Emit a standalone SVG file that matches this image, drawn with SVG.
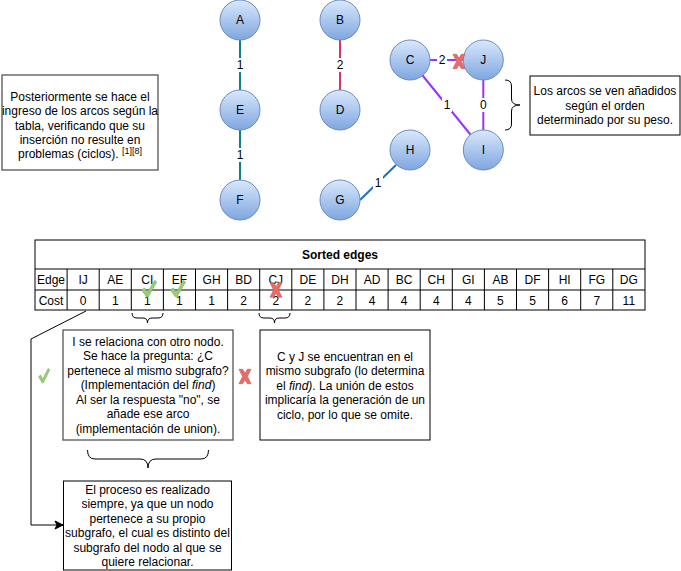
<svg xmlns="http://www.w3.org/2000/svg" xmlns:xlink="http://www.w3.org/1999/xlink" width="681" height="571" viewBox="0 0 681 571">
<style>
text{font-family:"Liberation Sans",Arial,sans-serif;font-size:12px;fill:#000;}
.c{text-anchor:middle;}
.node circle{fill:url(#ng);stroke:#6c8ebf;stroke-width:1;}
.box{fill:#fff;stroke:#000;stroke-width:1;}
.gbox{fill:#fff;stroke:#555;stroke-width:1.3;}
.cell{fill:none;stroke:#000;stroke-width:1;}
.e{fill:none;stroke-width:2;}
.lbl{fill:#fff;stroke:none;}
.brace{fill:none;stroke:#000;stroke-width:1;}
.th{font-weight:bold;}
</style>
<defs>
<linearGradient id="ng" x1="0" y1="0" x2="0" y2="1">
<stop offset="0" stop-color="#dae8fc"/>
<stop offset="1" stop-color="#7ea6e0"/>
</linearGradient>
<marker id="arr" markerWidth="10" markerHeight="10" refX="9" refY="5" orient="auto" markerUnits="userSpaceOnUse">
<path d="M1,1 L9,5 L1,9 L3,5 Z" fill="#000" stroke="#000" stroke-width="1"/>
</marker>
<g id="xmark">
<path d="M-6,-7.2 L-2.4,-7.2 L0,-3.2 L2.4,-7.2 L6,-7.2 L2.4,0 L6,7.2 L2.4,7.2 L0,3.2 L-2.4,7.2 L-6,7.2 L-2.4,0 Z" fill="#ea6b66" stroke="#c96a66" stroke-width="0.8" stroke-linejoin="round"/>
</g>
<g id="check">
<path d="M0,10 L2.8,8 L5.8,12.5 L12.8,0.5 L15,2 L6.3,17 L5.2,17 Z" fill="#97d077" stroke="#82b366" stroke-width="0.8" stroke-linejoin="round"/>
</g>
</defs>

<g id="connectors">
<line class="e" stroke="#0e8088" x1="240" y1="40" x2="240" y2="90"/>
<line class="e" stroke="#0e8088" x1="240" y1="130" x2="240" y2="180"/>
<line class="e" stroke="#d6336c" x1="340" y1="40" x2="340" y2="90"/>
<line class="e" stroke="#9933ff" x1="430" y1="60" x2="463" y2="60"/>
<line class="e" stroke="#9933ff" x1="422.6" y1="75.5" x2="470.4" y2="134.5"/>
<line class="e" stroke="#9933ff" x1="483.3" y1="80" x2="483.3" y2="130"/>
<line class="e" stroke="#1c6fc6" x1="360" y1="200" x2="396" y2="165"/>
<rect class="lbl" x="235" y="58" width="10" height="14"/>
<text class="c" x="240" y="69.3">1</text>
<rect class="lbl" x="235" y="148" width="10" height="14"/>
<text class="c" x="240" y="159.3">1</text>
<rect class="lbl" x="335" y="58" width="10" height="14"/>
<text class="c" x="340" y="69.3">2</text>
<rect class="lbl" x="437" y="53" width="10" height="14"/>
<text class="c" x="442" y="64.3">2</text>
<rect class="lbl" x="442" y="98" width="10" height="14"/>
<text class="c" x="447" y="109.3">1</text>
<rect class="lbl" x="478.3" y="98" width="10" height="14"/>
<text class="c" x="483.3" y="109.3">0</text>
<rect class="lbl" x="373" y="175.5" width="10" height="14"/>
<text class="c" x="378" y="186.8">1</text>
<polyline fill="none" stroke="#000" stroke-width="1" points="86,311 31,339 31,525 63,525" marker-end="url(#arr)"/>
</g>

<g id="node-A" class="node"><circle cx="240" cy="20" r="20"/><text class="c" x="240" y="24.3">A</text></g>
<g id="node-E" class="node"><circle cx="240" cy="110" r="20"/><text class="c" x="240" y="114.3">E</text></g>
<g id="node-F" class="node"><circle cx="240" cy="200" r="20"/><text class="c" x="240" y="204.3">F</text></g>
<g id="node-B" class="node"><circle cx="340" cy="20" r="20"/><text class="c" x="340" y="24.3">B</text></g>
<g id="node-D" class="node"><circle cx="340" cy="110" r="20"/><text class="c" x="340" y="114.3">D</text></g>
<g id="node-G" class="node"><circle cx="340" cy="200" r="20"/><text class="c" x="340" y="204.3">G</text></g>
<g id="node-H" class="node"><circle cx="410" cy="150" r="20"/><text class="c" x="410" y="154.3">H</text></g>
<g id="node-C" class="node"><circle cx="410" cy="60" r="20"/><text class="c" x="410" y="64.3">C</text></g>
<g id="node-J" class="node"><circle cx="483.3" cy="60" r="20"/><text class="c" x="483.3" y="64.3">J</text></g>
<g id="node-I" class="node"><circle cx="483.3" cy="150" r="20"/><text class="c" x="483.3" y="154.3">I</text></g>

<use xlink:href="#xmark" href="#xmark" transform="translate(459,61.5)"/>

<g id="note-left">
<rect class="gbox" x="2" y="75" width="156" height="95"/>
<text class="c" x="80" y="100.8">Posteriormente se hace el</text>
<text class="c" x="80" y="115.3">ingreso de los arcos según la</text>
<text class="c" x="80" y="129.8">tabla, verificando que su</text>
<text class="c" x="80" y="144.3">inserción no resulte en</text>
<text class="c" x="80" y="158.3">problemas (ciclos). <tspan font-size="9" dy="-4">[1][8]</tspan></text>
</g>

<g id="note-right">
<path class="brace" d="M505,80 Q511.5,80 511.5,86 L511.5,99 Q511.5,105 520,105 Q511.5,105 511.5,111 L511.5,124 Q511.5,130 505,130"/>
<rect class="box" x="530" y="76" width="150" height="59"/>
<text class="c" x="605" y="95.3">Los arcos se ven añadidos</text>
<text class="c" x="605" y="109.8">según el orden</text>
<text class="c" x="605" y="124.3">determinado por su peso.</text>
</g>

<g id="table">
<rect class="cell" x="35" y="240" width="610" height="70"/>
<line class="cell" x1="35" y1="269" x2="645" y2="269"/>
<line class="cell" x1="35" y1="290" x2="645" y2="290"/>
<g stroke="#000" stroke-width="1">
<line x1="67.1" y1="269" x2="67.1" y2="310"/>
<line x1="99.2" y1="269" x2="99.2" y2="310"/>
<line x1="131.3" y1="269" x2="131.3" y2="310"/>
<line x1="163.4" y1="269" x2="163.4" y2="310"/>
<line x1="195.5" y1="269" x2="195.5" y2="310"/>
<line x1="227.6" y1="269" x2="227.6" y2="310"/>
<line x1="259.7" y1="269" x2="259.7" y2="310"/>
<line x1="291.8" y1="269" x2="291.8" y2="310"/>
<line x1="323.9" y1="269" x2="323.9" y2="310"/>
<line x1="356" y1="269" x2="356" y2="310"/>
<line x1="388.1" y1="269" x2="388.1" y2="310"/>
<line x1="420.2" y1="269" x2="420.2" y2="310"/>
<line x1="452.3" y1="269" x2="452.3" y2="310"/>
<line x1="484.4" y1="269" x2="484.4" y2="310"/>
<line x1="516.5" y1="269" x2="516.5" y2="310"/>
<line x1="548.6" y1="269" x2="548.6" y2="310"/>
<line x1="580.7" y1="269" x2="580.7" y2="310"/>
<line x1="612.8" y1="269" x2="612.8" y2="310"/>
</g>
<text class="c th" x="340" y="259">Sorted edges</text>
<text class="c" x="51" y="284">Edge</text>
<text class="c" x="51" y="304.5">Cost</text>
<text class="c" x="83.15" y="284">IJ</text><text class="c" x="83.15" y="304.5">0</text>
<text class="c" x="115.25" y="284">AE</text><text class="c" x="115.25" y="304.5">1</text>
<text class="c" x="147.35" y="284">CI</text><text class="c" x="147.35" y="304.5">1</text>
<text class="c" x="179.45" y="284">EF</text><text class="c" x="179.45" y="304.5">1</text>
<text class="c" x="211.55" y="284">GH</text><text class="c" x="211.55" y="304.5">1</text>
<text class="c" x="243.65" y="284">BD</text><text class="c" x="243.65" y="304.5">2</text>
<text class="c" x="275.75" y="284">CJ</text><text class="c" x="275.75" y="304.5">2</text>
<text class="c" x="307.85" y="284">DE</text><text class="c" x="307.85" y="304.5">2</text>
<text class="c" x="339.95" y="284">DH</text><text class="c" x="339.95" y="304.5">2</text>
<text class="c" x="372.05" y="284">AD</text><text class="c" x="372.05" y="304.5">4</text>
<text class="c" x="404.15" y="284">BC</text><text class="c" x="404.15" y="304.5">4</text>
<text class="c" x="436.25" y="284">CH</text><text class="c" x="436.25" y="304.5">4</text>
<text class="c" x="468.35" y="284">GI</text><text class="c" x="468.35" y="304.5">4</text>
<text class="c" x="500.45" y="284">AB</text><text class="c" x="500.45" y="304.5">5</text>
<text class="c" x="532.55" y="284">DF</text><text class="c" x="532.55" y="304.5">5</text>
<text class="c" x="564.65" y="284">HI</text><text class="c" x="564.65" y="304.5">6</text>
<text class="c" x="596.75" y="284">FG</text><text class="c" x="596.75" y="304.5">7</text>
<text class="c" x="628.85" y="284">DG</text><text class="c" x="628.85" y="304.5">11</text>
<use xlink:href="#check" href="#check" transform="translate(141.7,280)"/>
<use xlink:href="#check" href="#check" transform="translate(170.5,280)"/>
<use xlink:href="#xmark" href="#xmark" transform="translate(276,290)"/>
</g>

<g id="braces">
<path class="brace" d="M132,313 Q132,318 137,318 L143,318 Q147.5,318 147.5,323 Q147.5,318 152,318 L158,318 Q163,318 163,313"/>
<path class="brace" d="M259,313 Q259,318 264,318 L270,318 Q274.5,318 274.5,323 Q274.5,318 279,318 L285,318 Q290,318 290,313"/>
<path class="brace" d="M87.5,450 Q87.5,459 95,459 L140,459 Q148,459 148,468 Q148,459 156,459 L201,459 Q208.5,459 208.5,450"/>
</g>

<g id="note-ok">
<use xlink:href="#check" href="#check" transform="translate(38.5,368) scale(0.75,0.88)"/>
<rect class="gbox" x="63" y="330" width="170" height="110"/>
<text class="c" x="148" y="345.8">I se relaciona con otro nodo.</text>
<text class="c" x="148" y="360.3">Se hace la pregunta: ¿C</text>
<text class="c" x="148" y="374.8">pertenece al mismo subgrafo?</text>
<text class="c" x="148" y="389.3">(Implementación del <tspan font-style="italic">find</tspan>)</text>
<text class="c" x="148" y="403.8">Al ser la respuesta "no", se</text>
<text class="c" x="148" y="418.3">añade ese arco</text>
<text class="c" x="148" y="432.8">(implementación de union).</text>
</g>

<g id="note-cycle">
<use xlink:href="#xmark" href="#xmark" transform="translate(245,376.5)"/>
<rect class="box" x="260" y="330" width="170" height="110"/>
<text class="c" x="345" y="360.8">C y J se encuentran en el</text>
<text class="c" x="345" y="375.3">mismo subgrafo (lo determina</text>
<text class="c" x="345" y="389.8">el <tspan font-style="italic">find)</tspan>. La unión de estos</text>
<text class="c" x="345" y="404.3">implicaría la generación de un</text>
<text class="c" x="345" y="418.8">ciclo, por lo que se omite.</text>
</g>

<g id="note-always">
<rect class="box" x="63.5" y="481" width="168" height="89"/>
<text class="c" x="147.5" y="493.6">El proceso es realizado</text>
<text class="c" x="147.5" y="508.1">siempre, ya que un nodo</text>
<text class="c" x="147.5" y="522.6">pertenece a su propio</text>
<text class="c" x="147.5" y="537.1">subgrafo, el cual es distinto del</text>
<text class="c" x="147.5" y="551.6">subgrafo del nodo al que se</text>
<text class="c" x="147.5" y="566.1">quiere relacionar.</text>
</g>
</svg>
